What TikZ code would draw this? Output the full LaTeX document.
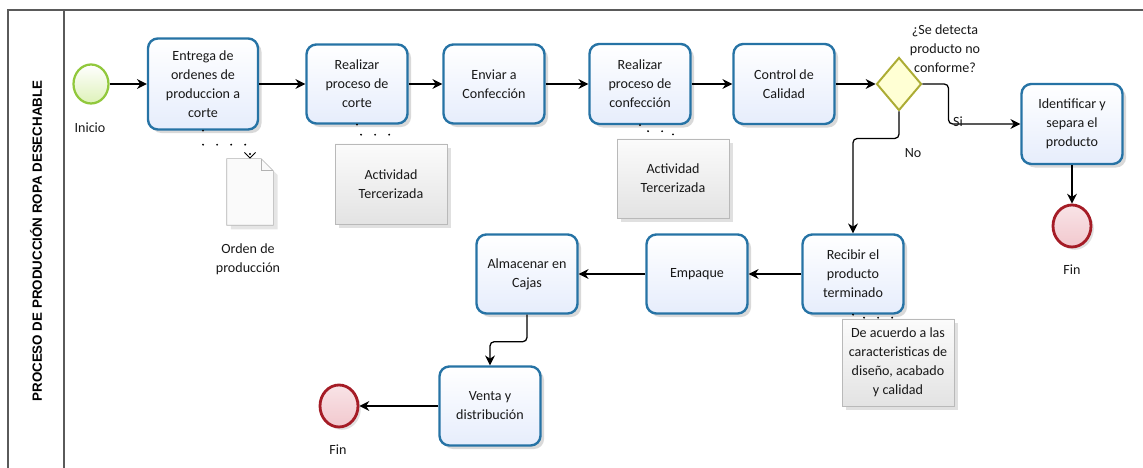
\documentclass[tikz,border=0pt]{standalone}
\usepackage{fontspec}
\setmainfont{Carlito}
\newfontfamily\lanefont{Liberation Sans}
\usetikzlibrary{positioning,shapes.geometric,shadows,arrows.meta}
\definecolor{taskblue}{RGB}{38,115,165}
\definecolor{taskfill}{RGB}{230,237,252}
\definecolor{startgreen}{RGB}{145,200,60}
\definecolor{startfill}{RGB}{222,242,185}
\definecolor{endred}{RGB}{165,28,38}
\definecolor{endfill}{RGB}{242,200,206}
\definecolor{gatewayolive}{RGB}{172,172,52}
\definecolor{gatewayfill}{RGB}{255,255,212}
\definecolor{lanegray}{RGB}{90,90,90}

\begin{document}
\begin{tikzpicture}[
  txt/.style={font=\fontsize{10}{13.5}\selectfont, align=center, text=black!90},
  task/.style={txt, rectangle, rounded corners=7pt, draw=taskblue, line width=1.7pt, top color=white, bottom color=taskfill, minimum width=2.525cm, minimum height=1.975cm, drop shadow={shadow xshift=2.5pt, shadow yshift=-2.5pt, fill=black, opacity=0.15}},
  startev/.style={ellipse, draw=startgreen, line width=1.6pt, top color=white, bottom color=startfill, minimum width=0.875cm, minimum height=0.975cm, inner sep=0pt},
  endev/.style={ellipse, draw=endred, line width=2pt, top color=white!50!endfill, bottom color=endfill, minimum width=0.95cm, minimum height=1.05cm, inner sep=0pt, drop shadow={shadow xshift=2pt, shadow yshift=-2pt, fill=black, opacity=0.12}},
  gateway/.style={diamond, draw=gatewayolive, line width=1.4pt, fill=gatewayfill, minimum width=1.125cm, minimum height=1.325cm, inner sep=0pt},
  note/.style={txt, rectangle, draw=gray!55, top color=gray!3, bottom color=gray!22, minimum width=2.8cm, minimum height=2cm, drop shadow={shadow xshift=3pt, shadow yshift=-3pt, fill=black, opacity=0.12}},
  flow/.style={-{Stealth[length=7pt,width=7pt]}, line width=0.9pt},
  assoc/.style={line width=1.5pt, line cap=round, dash pattern=on 0pt off 10pt},
]
\useasboundingbox (0,0) rectangle (28.575,11.7);

\draw[lanegray, line width=1.4pt] (28.575,11.44) -- (0.21,11.44) -- (0.21,0);
\draw[lanegray, line width=1.4pt] (1.61,11.44) -- (1.61,0);
\node[rotate=90, font=\lanefont\bfseries\fontsize{9.5}{11}\selectfont] (lane) at (0.9,5.675) {PROCESO DE PRODUCCIÓN ROPA DESECHABLE};

\node[startev] (ini) at (2.275,9.6) {};
\node[txt] (inilbl) at (2.25,8.5) {Inicio};
\node[task, minimum width=2.75cm, minimum height=2.275cm] (t1) at (5.075,9.6) {Entrega de\\ordenes de\\produccion a\\corte};
\node[task] (t2) at (8.925,9.6) {Realizar\\proceso de\\corte};
\node[task] (t3) at (12.35,9.6) {Enviar a\\Confección};
\node[task, minimum height=2cm] (t4) at (16.0,9.6) {Realizar\\proceso de\\confección};
\node[task, minimum height=2cm] (t5) at (19.6,9.6) {Control de\\Calidad};
\node[gateway] (gw) at (22.475,9.6) {};
\node[txt] (gwlbl) at (23.625,10.475) {¿Se detecta\\producto no\\conforme?};
\node[task, minimum height=2cm] (t6) at (26.8,8.6) {Identificar y\\separa el\\producto};
\node[endev] (fin2) at (26.8,6.05) {};
\node[txt] (fin2lbl) at (26.8,4.95) {Fin};

\node[task] (t7) at (21.325,4.85) {Recibir el\\producto\\terminado};
\node[task] (t8) at (17.425,4.85) {Empaque};
\node[task] (t9) at (13.175,4.85) {Almacenar en\\Cajas};
\node[task] (t10) at (12.25,1.55) {Venta y\\distribución};
\node[endev] (fin1) at (8.475,1.55) {};
\node[txt] (fin1lbl) at (8.45,0.45) {Fin};

\node[minimum width=1.15cm, minimum height=1.65cm, inner sep=0pt] (doc) at (6.25,6.9) {};
\draw[gray!60, fill=gray!4, drop shadow={shadow xshift=3pt, shadow yshift=-3pt, fill=black, opacity=0.1}] (doc.north west) -- ([xshift=-0.3cm]doc.north east) -- ([yshift=-0.3cm]doc.north east) -- (doc.south east) -- (doc.south west) -- cycle;
\draw[gray!60] ([xshift=-0.3cm]doc.north east) |- ([yshift=-0.3cm]doc.north east);
\node[txt] (doclbl) at (6.2,5.225) {Orden de\\producción};

\node[note] (ann1) at (9.775,7.1) {Actividad\\Tercerizada};
\node[note, minimum height=1.975cm] (ann2) at (16.825,7.24) {Actividad\\Tercerizada};
\node[note, minimum height=2.175cm] (ann3) at (22.45,2.64) {De acuerdo a las\\caracteristicas de\\diseño, acabado\\y calidad};

\draw[flow] (ini) -- (t1);
\draw[flow] (t1) -- (t2);
\draw[flow] (t2) -- (t3);
\draw[flow] (t3) -- (t4);
\draw[flow] (t4) -- (t5);
\draw[flow] (t5) -- (gw);
\draw[flow, rounded corners=3pt] (gw.east) -- ++(0.65,0) |- (t6.west);
\node[txt] (si) at (23.95,8.65) {Si};
\draw[flow, rounded corners=3pt] (gw.south) -- ++(0,-0.675) -| (t7.north);
\node[txt] (no) at (22.825,7.875) {No};
\draw[flow] (t6) -- (fin2);
\draw[flow] (t7) -- (t8);
\draw[flow] (t8) -- (t9);
\draw[flow, rounded corners=3pt] (t9.south) -- ++(0,-0.675) -| (t10.north);
\draw[flow] (t10) -- (fin1);

\draw[assoc, -{Straight Barb[length=4pt, width=8pt, line width=0.7pt]}] (t1.south) -- ++(0,-0.35) -| (doc.north);
\draw[assoc] (t2.south) -- ++(0,-0.25) -| (ann1.north);
\draw[assoc] (t4.south) -- ++(0,-0.15) -| (ann2.north);
\draw[assoc] (t7.south) -- ++(0,-0.075) -| (ann3.north);
\end{tikzpicture}
\end{document}
